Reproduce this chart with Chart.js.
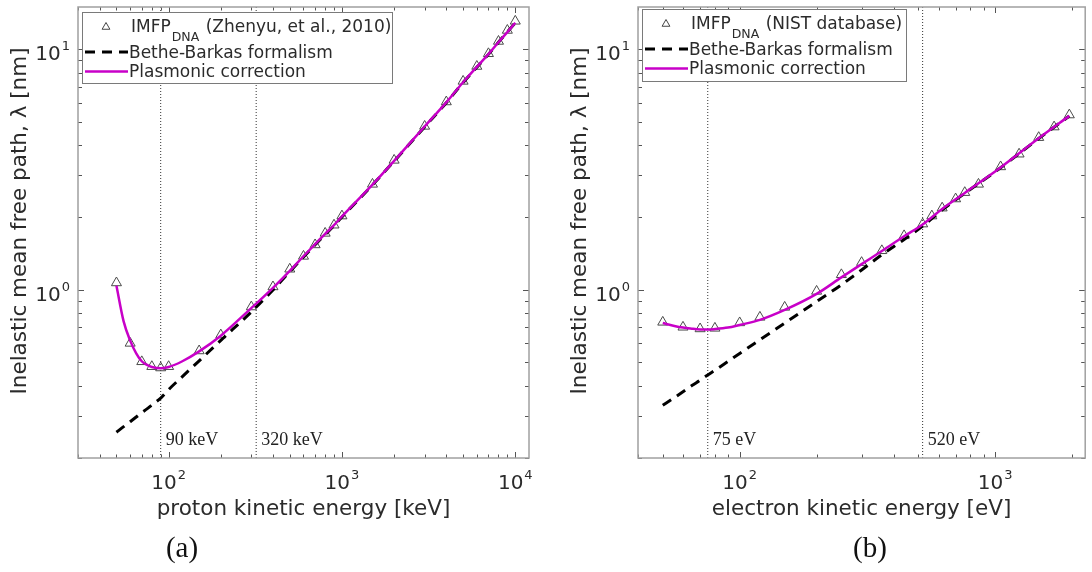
<!DOCTYPE html>
<html>
<head>
<meta charset="utf-8">
<script src="https://cdn.jsdelivr.net/npm/chart.js@4.4.0/dist/chart.umd.min.js"></script>
<style>
  html, body { margin: 0; padding: 0; background: #fff; }
  #wrap { position: relative; width: 1092px; height: 572px; overflow: hidden; }
  canvas { position: absolute; top: 0; }
  #protonChart { left: 0; }
  #electronChart { left: 546px; }
</style>
</head>
<body>
<div id="wrap">
  <canvas id="protonChart" width="546" height="572"></canvas>
  <canvas id="electronChart" width="546" height="572"></canvas>
</div>
<script>
// shared y range (nm)
const yRange = [0.2, 15];

// (a) protons, energies in keV
const protonRange = [30, 12000];
const protonEnergy = [50, 60, 70, 80, 90, 100, 150, 200, 300, 400, 500, 600, 700, 800, 900,
    1000, 1500, 2000, 3000, 4000, 5000, 6000, 7000, 8000, 9000, 10000];
const protonImfp = [1.07, 0.60, 0.503, 0.48, 0.474, 0.48, 0.558, 0.65, 0.85, 1.03, 1.22, 1.38, 1.54, 1.72, 1.86,
    2.03, 2.75, 3.46, 4.79, 6.05, 7.37, 8.5, 9.6, 10.8, 12.0, 13.1];
const protonCurveEnergy = [50, 55, 60, 65, 70, 75, 80, 90, 100, 120, 150, 200, 300, 400, 500, 600, 700, 800, 900,
    1000, 1500, 2000, 3000, 4000, 5000, 6000, 7000, 8000, 9000, 10000];
const protonPlasmonic = [1.04, 0.74, 0.615, 0.545, 0.505, 0.488, 0.478, 0.472, 0.478, 0.505, 0.555, 0.645, 0.84, 1.02, 1.2, 1.38, 1.55, 1.71, 1.86,
    2.02, 2.74, 3.44, 4.78, 6.02, 7.3, 8.45, 9.55, 10.7, 11.8, 12.9];
const protonBethe = [0.256, 0.27, 0.283, 0.296, 0.309, 0.32, 0.332, 0.355, 0.385, 0.436, 0.507, 0.617, 0.81, 1.0, 1.19, 1.37, 1.54, 1.70, 1.85,
    2.01, 2.73, 3.43, 4.76, 6.0, 7.28, 8.43, 9.53, 10.7, 11.8, 12.9];
const protonMarks = [90, 320];

// (b) electrons, energies in eV
const electronRange = [40, 2250];
const electronEnergy = [50, 60, 70, 80, 100, 120, 150, 200, 250, 300, 360, 440, 520, 565, 620, 700, 760, 860,
    1050, 1240, 1480, 1700, 1950];
const electronImfp = [0.734, 0.70, 0.689, 0.693, 0.73, 0.77, 0.847, 0.987, 1.157, 1.30, 1.456, 1.68, 1.88, 2.03, 2.19, 2.39, 2.54, 2.75,
    3.25, 3.67, 4.30, 4.76, 5.34];
const electronCurveEnergy = [50, 55, 60, 65, 70, 75, 80, 90, 100, 120, 150, 200, 250, 300, 360, 440, 520, 620, 760, 1050, 1480, 1950];
const electronPlasmonic = [0.728, 0.71, 0.697, 0.69, 0.685, 0.684, 0.687, 0.697, 0.715, 0.75, 0.825, 0.962, 1.127, 1.28, 1.45, 1.67, 1.87, 2.17, 2.53, 3.23, 4.27, 5.29];
const electronBethe = [0.331, 0.354, 0.377, 0.40, 0.421, 0.443, 0.463, 0.504, 0.544, 0.62, 0.727, 0.894, 1.05, 1.21, 1.40, 1.62, 1.84, 2.15, 2.52, 3.22, 4.26, 5.28];
const electronMarks = [75, 520];

const MAGENTA = '#c800c8';
const INK = '#2b2b2b';
const FRAME = '#a0a0a0';
const SANS = '"DejaVu Sans", sans-serif';
const SERIF = '"Liberation Serif", serif';

function pairs(xs, ys) {
    return xs.map((x, i) => ({ x: x, y: ys[i] }));
}

function logTicks(min, max) {
    const out = [];
    for (let e = Math.floor(Math.log10(min)); e <= Math.ceil(Math.log10(max)); e++) {
        for (let m = 1; m <= 9; m++) {
            const v = m * Math.pow(10, e);
            if (v >= min * 0.999 && v <= max * 1.001) out.push({ v: v, major: m === 1, exp: e });
        }
    }
    return out;
}

function triangle(ctx, x, y, r) {
    ctx.beginPath();
    ctx.moveTo(x, y - r);
    ctx.lineTo(x + r * 0.866, y + r * 0.5);
    ctx.lineTo(x - r * 0.866, y + r * 0.5);
    ctx.closePath();
    ctx.stroke();
}

// label like 10^n, centred on (cx) or right aligned at (rx)
function powerLabel(ctx, exp, x, baseline, align) {
    ctx.font = '20px ' + SANS;
    const w1 = ctx.measureText('10').width;
    ctx.font = '13px ' + SANS;
    const w2 = ctx.measureText(String(exp)).width;
    const total = w1 + 1 + w2;
    const left = align === 'center' ? x - total / 2 : x - total;
    ctx.textAlign = 'left';
    ctx.font = '20px ' + SANS;
    ctx.fillText('10', left, baseline);
    ctx.font = '13px ' + SANS;
    ctx.fillText(String(exp), left + w1 + 1, baseline - 10);
}

// box, inward ticks, tick labels, titles, legend and vertical marker labels
function framePlugin(cfg) {
    return {
        id: 'frame',
        afterDraw(chart) {
            const ctx = chart.ctx;
            const a = chart.chartArea;
            const xs = chart.scales.x, ys = chart.scales.y;
            ctx.save();

            // marker labels
            ctx.fillStyle = '#222';
            ctx.font = '18px ' + SERIF;
            ctx.textAlign = 'left';
            ctx.textBaseline = 'alphabetic';
            cfg.marks.forEach(v => {
                ctx.fillText(v + ' ' + cfg.unit, xs.getPixelForValue(v) + 5, a.bottom - 13);
            });

            // ticks
            ctx.strokeStyle = '#555';
            ctx.lineWidth = 1;
            ctx.beginPath();
            logTicks(xs.min, xs.max).forEach(t => {
                const px = Math.round(xs.getPixelForValue(t.v)) + 0.5;
                const len = t.major ? 6 : 3.5;
                ctx.moveTo(px, a.bottom); ctx.lineTo(px, a.bottom - len);
                ctx.moveTo(px, a.top); ctx.lineTo(px, a.top + len);
            });
            logTicks(ys.min, ys.max).forEach(t => {
                const py = Math.round(ys.getPixelForValue(t.v)) + 0.5;
                const len = t.major ? 6 : 4;
                ctx.moveTo(a.left, py); ctx.lineTo(a.left + len, py);
                ctx.moveTo(a.right, py); ctx.lineTo(a.right - len, py);
            });
            ctx.stroke();

            // box
            ctx.strokeStyle = FRAME;
            ctx.lineWidth = 1.5;
            ctx.strokeRect(a.left, a.top, a.right - a.left, a.bottom - a.top);

            // tick labels
            ctx.fillStyle = INK;
            ctx.textBaseline = 'alphabetic';
            logTicks(xs.min, xs.max).filter(t => t.major).forEach(t => {
                powerLabel(ctx, t.exp, xs.getPixelForValue(t.v), 489, 'center');
            });
            logTicks(ys.min, ys.max).filter(t => t.major).forEach(t => {
                powerLabel(ctx, t.exp, a.left - 8, ys.getPixelForValue(t.v) + 11, 'right');
            });

            // axis titles
            ctx.font = '21.5px ' + SANS;
            ctx.textAlign = 'center';
            ctx.fillText(cfg.xTitle, (a.left + a.right) / 2, 515);
            ctx.save();
            ctx.translate(cfg.yTitleX, 221);
            ctx.rotate(-Math.PI / 2);
            ctx.textBaseline = 'middle';
            ctx.fillText('Inelastic mean free path, \u03bb [nm]', 0, 0);
            ctx.restore();

            // panel caption
            ctx.fillStyle = '#111';
            ctx.font = '29px ' + SERIF;
            ctx.textBaseline = 'middle';
            ctx.fillText(cfg.caption, cfg.captionX, 549);

            // legend
            const L = cfg.legend;
            ctx.fillStyle = '#fff';
            ctx.fillRect(L.x, L.y, L.w, L.h);
            ctx.strokeStyle = '#7a7a7a';
            ctx.lineWidth = 1;
            ctx.strokeRect(L.x + 0.5, L.y + 0.5, L.w, L.h);

            ctx.strokeStyle = '#444';
            triangle(ctx, L.x + 24, L.y + 15, 4.5);
            ctx.fillStyle = INK;
            ctx.textAlign = 'left';
            ctx.textBaseline = 'alphabetic';
            ctx.font = '17px ' + SANS;
            const tx = L.x + 49;
            ctx.fillText('IMFP', tx, L.y + 20);
            const wI = ctx.measureText('IMFP').width;
            ctx.font = '12.5px ' + SANS;
            ctx.fillText('DNA', tx + wI + 1, L.y + 28.5);
            const wD = ctx.measureText('DNA').width;
            ctx.font = '17px ' + SANS;
            ctx.fillText(' ' + cfg.source, tx + wI + wD + 2, L.y + 20);
            ctx.fillText('Bethe-Barkas formalism', tx - 2, L.y + 45.5);
            ctx.fillText('Plasmonic correction', tx - 2, L.y + 64.5);

            ctx.strokeStyle = '#000';
            ctx.lineWidth = 3;
            ctx.setLineDash([10, 7]);
            ctx.beginPath();
            ctx.moveTo(L.x + 3, L.y + 40); ctx.lineTo(L.x + 46, L.y + 40);
            ctx.stroke();
            ctx.setLineDash([]);
            ctx.strokeStyle = MAGENTA;
            ctx.lineWidth = 2.5;
            ctx.beginPath();
            ctx.moveTo(L.x + 3, L.y + 59.5); ctx.lineTo(L.x + 46, L.y + 59.5);
            ctx.stroke();

            ctx.restore();
        }
    };
}

function buildChart(id, cfg) {
    const datasets = [
        {
            label: 'Plasmonic correction',
            data: pairs(cfg.curveX, cfg.plasmonic),
            borderColor: MAGENTA,
            borderWidth: 2.5,
            pointRadius: 0,
            cubicInterpolationMode: 'monotone',
            order: 1
        },
        {
            label: 'Bethe-Barkas formalism',
            data: pairs(cfg.curveX, cfg.bethe),
            borderColor: '#000',
            borderWidth: 3,
            borderDash: [10, 7],
            pointRadius: 0,
            cubicInterpolationMode: 'monotone',
            order: 2
        },
        {
            label: 'IMFP DNA',
            data: pairs(cfg.pointX, cfg.pointY),
            showLine: false,
            pointStyle: 'triangle',
            pointRadius: 5.8,
            pointBorderWidth: 1,
            pointBorderColor: '#4a4a4a',
            pointBackgroundColor: 'rgba(255,255,255,0)',
            order: 3
        }
    ];
    cfg.marks.forEach(v => {
        datasets.push({
            label: v + ' ' + cfg.unit,
            data: [{ x: v, y: yRange[0] }, { x: v, y: yRange[1] }],
            borderColor: '#333',
            borderWidth: 1,
            borderDash: [1, 2],
            pointRadius: 0,
            order: 4
        });
    });

    new Chart(document.getElementById(id), {
        type: 'line',
        data: { datasets: datasets },
        options: {
            responsive: false,
            animation: false,
            devicePixelRatio: 1,
            layout: { padding: cfg.padding },
            scales: {
                x: { type: 'logarithmic', display: false, min: cfg.xRange[0], max: cfg.xRange[1] },
                y: { type: 'logarithmic', display: false, min: yRange[0], max: yRange[1] }
            },
            plugins: { legend: { display: false }, tooltip: { enabled: false } }
        },
        plugins: [framePlugin(cfg)]
    });
}

buildChart('protonChart', {
    xRange: protonRange,
    pointX: protonEnergy, pointY: protonImfp,
    curveX: protonCurveEnergy, plasmonic: protonPlasmonic, bethe: protonBethe,
    marks: protonMarks, unit: 'keV',
    xTitle: 'proton kinetic energy [keV]',
    source: '(Zhenyu, et al., 2010)',
    caption: '(a)', captionX: 182, yTitleX: 20,
    padding: { left: 78, right: 17, top: 7, bottom: 114 },
    legend: { x: 82, y: 12, w: 310, h: 71 }
});

buildChart('electronChart', {
    xRange: electronRange,
    pointX: electronEnergy, pointY: electronImfp,
    curveX: electronCurveEnergy, plasmonic: electronPlasmonic, bethe: electronBethe,
    marks: electronMarks, unit: 'eV',
    xTitle: 'electron kinetic energy [eV]',
    source: '(NIST database)',
    caption: '(b)', captionX: 324, yTitleX: 34,
    padding: { left: 92, right: 2, top: 7, bottom: 114 },
    legend: { x: 96, y: 9, w: 264, h: 72 }
});
</script>
</body>
</html>
